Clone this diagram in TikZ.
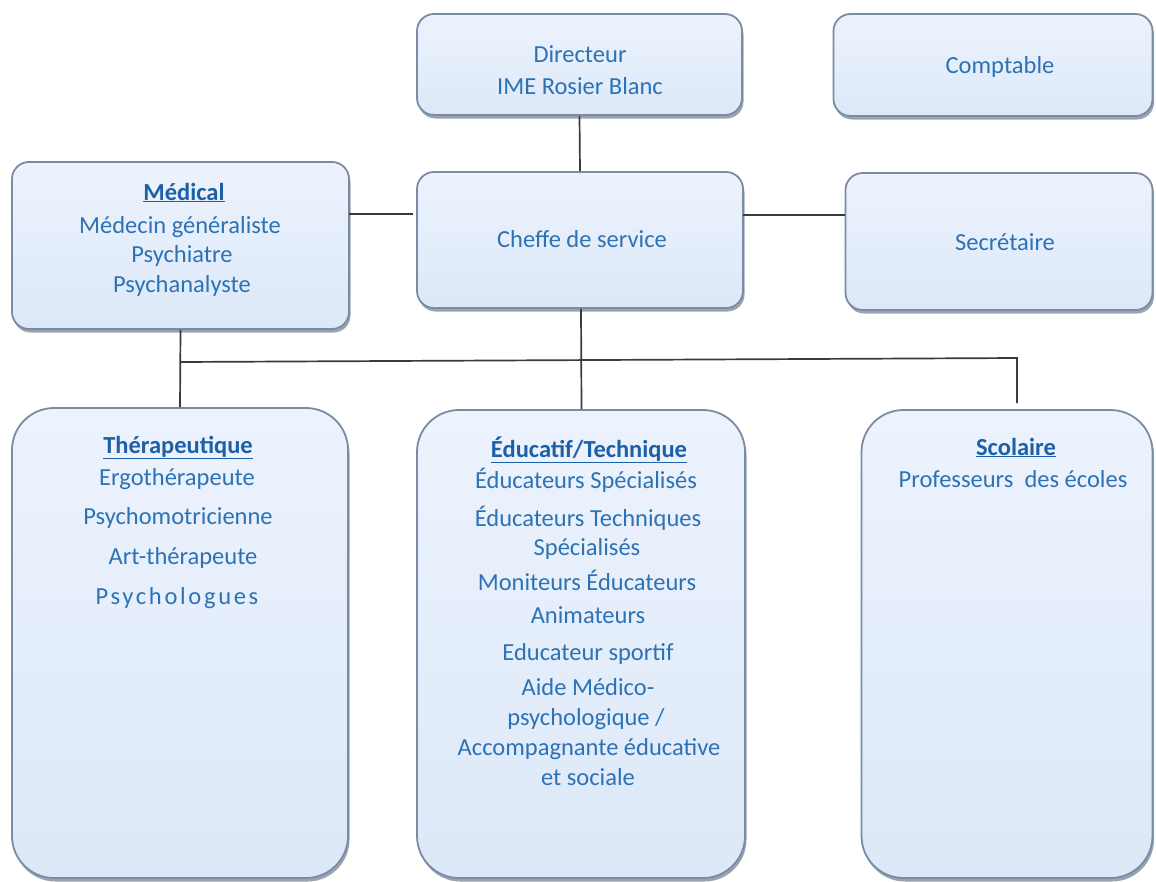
\documentclass[tikz,border=0pt]{standalone}
\usepackage{fontspec}
\setmainfont{Carlito}
\usetikzlibrary{shadows}
\definecolor{boxtop}{HTML}{EDF3FD}
\definecolor{boxbot}{HTML}{DCE8F8}
\definecolor{boxline}{HTML}{7A8BA3}
\definecolor{shadowcol}{HTML}{56667C}
\definecolor{txtcol}{HTML}{2C72B5}
\definecolor{ttlcol}{HTML}{1E60A8}
\definecolor{conncol}{HTML}{3A3A3A}
\tikzset{
  orgbox/.style={draw=boxline, line width=1.8pt, top color=boxtop, bottom color=boxbot,
    rounded corners=#1, inner sep=0pt,
    drop shadow={shadow xshift=1.5pt, shadow yshift=-3.5pt, fill=shadowcol, opacity=0.6}},
  orgbox/.default=17pt,
  lbl/.style={anchor=base, inner sep=0pt, text=txtcol, font=\fontsize{24.5}{29}\selectfont},
  ttl/.style={lbl, text=ttlcol, font=\fontsize{24.5}{29}\selectfont\bfseries},
  conn/.style={draw=conncol, line width=1.7pt}
}
\begin{document}
\begin{tikzpicture}[x=1pt,y=-1pt]
\useasboundingbox (0,0) rectangle (1156,881);
% boxes
\node[orgbox, minimum width=325pt, minimum height=101pt] (dir) at (579.5,64.5) {};
\node[orgbox, minimum width=319pt, minimum height=102pt] (compt) at (993,65) {};
\node[orgbox, minimum width=337pt, minimum height=167pt] (med) at (180.5,245.5) {};
\node[orgbox, minimum width=326pt, minimum height=136pt] (chef) at (580,240) {};
\node[orgbox, minimum width=307pt, minimum height=137pt] (sec) at (999,241.5) {};
\node[orgbox=42pt, minimum width=336pt, minimum height=470pt] (ther) at (180,643) {};
\node[orgbox=42pt, minimum width=328pt, minimum height=468pt] (edu) at (581,644) {};
\node[orgbox=42pt, minimum width=291pt, minimum height=468pt] (scol) at (1007,644) {};
% connectors
\coordinate (medR) at (349,214);
\coordinate (chefL) at (413,214);
\coordinate (chefR) at (743,215);
\coordinate (secL) at (845,215);
\coordinate (busL) at (180,362);
\coordinate (busR) at (1017,358);
\coordinate (scolT) at (1017,403);
\draw[conn] (dir.south) -- (chef.north);
\draw[conn] (medR) -- (chefL);
\draw[conn] (chefR) -- (secL);
\draw[conn] (med.south) -- (ther.north);
\draw[conn] ([xshift=1pt]chef.south) -- ([xshift=0.5pt]edu.north);
\draw[conn] (busL) -- (busR) -- (scolT);
% texts
\node[lbl] (t-dir1) at (580,62) {Directeur};
\node[lbl] (t-dir2) at (580,94) {IME Rosier Blanc};
\node[lbl] (t-compt) at (1000,73) {Comptable};
\node[lbl] (t-chef) at (582,247) {Cheffe de service};
\node[lbl] (t-sec) at (1005,250) {Secrétaire};
\node[ttl] (t-med0) at (184,200) {\underline{Médical}};
\node[lbl] (t-med1) at (180,233) {Médecin généraliste};
\node[lbl] (t-med2) at (182,262) {Psychiatre};
\node[lbl] (t-med3) at (182,292) {Psychanalyste};
\node[ttl] (t-ther0) at (178,453) {\underline{Thérapeutique}};
\node[lbl] (t-ther1) at (177,485) {Ergothérapeute};
\node[lbl] (t-ther2) at (178,524) {Psychomotricienne};
\node[lbl] (t-ther3) at (183,564) {Art-thérapeute};
\node[lbl] (t-ther4) at (177,604) {\addfontfeature{LetterSpace=11}Psychologues};
\node[ttl] (t-edu0) at (589,457) {\underline{Éducatif/Technique}};
\node[lbl] (t-edu1) at (586,488) {Éducateurs Spécialisés};
\node[lbl] (t-edu2) at (588,526) {Éducateurs Techniques};
\node[lbl] (t-edu3) at (587,555) {Spécialisés};
\node[lbl] (t-edu4) at (587,590) {Moniteurs Éducateurs};
\node[lbl] (t-edu5) at (588,623) {Animateurs};
\node[lbl] (t-edu6) at (588,660) {Educateur sportif};
\node[lbl] (t-edu7) at (588,695) {Aide Médico-};
\node[lbl] (t-edu8) at (586,725) {psychologique /};
\node[lbl] (t-edu9) at (589,755) {Accompagnante éducative};
\node[lbl] (t-edu10) at (588,785) {et sociale};
\node[ttl] (t-scol0) at (1016,455) {\underline{Scolaire}};
\node[lbl] (t-scol1) at (1013,487) {Professeurs\ \ des écoles};
\end{tikzpicture}
\end{document}
